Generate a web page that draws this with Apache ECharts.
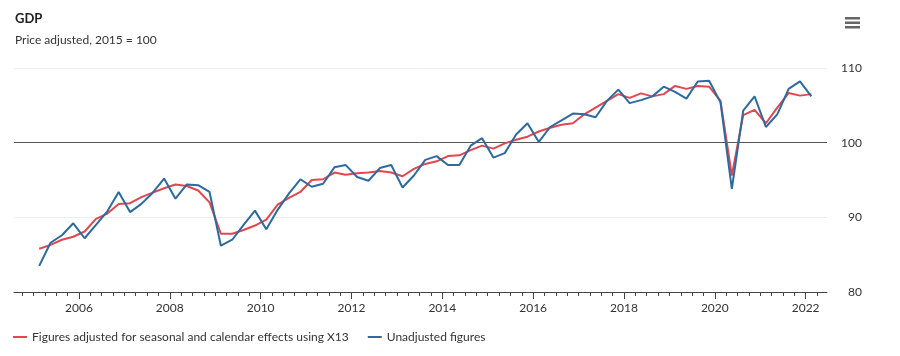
<!DOCTYPE html>
<html>
<head>
<meta charset="utf-8">
<script src="https://cdn.jsdelivr.net/npm/echarts@6/dist/echarts.min.js"></script>
<style>
html,body{margin:0;padding:0;background:#fff;}
#chart{width:900px;height:356px;}
</style>
</head>
<body>
<div id="chart"></div>
<script>
// Quarters 2005 Q1 .. 2022 Q1
const startYear = 2005;
const quarterCount = 69;
const quarters = [];
for (let i = 0; i < quarterCount; i++) {
  quarters.push((startYear + Math.floor(i / 4)) + ' Q' + (i % 4 + 1));
}

const adjusted = [
  85.8, 86.3, 87.0, 87.4, 88.1, 89.8, 90.5, 91.8, 91.9, 92.7,
  93.3, 93.9, 94.4, 94.2, 93.6, 92.0, 87.8, 87.8, 88.3, 88.9,
  89.7, 91.7, 92.6, 93.4, 95.0, 95.1, 96.0, 95.7, 95.9, 96.0,
  96.2, 96.0, 95.5, 96.5, 97.15, 97.5, 98.2, 98.3, 99.0, 99.6,
  99.2, 99.9, 100.4, 100.8, 101.5, 102.0, 102.4, 102.6, 103.8, 104.7,
  105.6, 106.5, 106.0, 106.6, 106.2, 106.5, 107.6, 107.2, 107.6, 107.5,
  105.6, 95.6, 103.7, 104.4, 102.6, 104.7, 106.65, 106.3, 106.5
];

const unadjusted = [
  83.5, 86.6, 87.6, 89.2, 87.2, 89.0, 90.8, 93.4, 90.7, 91.8,
  93.3, 95.2, 92.5, 94.4, 94.3, 93.4, 86.2, 87.0, 89.0, 90.9,
  88.4, 91.0, 93.2, 95.1, 94.1, 94.5, 96.7, 97.0, 95.4, 94.9,
  96.6, 97.0, 94.0, 95.6, 97.7, 98.2, 97.0, 97.0, 99.6, 100.6,
  98.0, 98.6, 101.1, 102.6, 100.1, 102.1, 103.0, 103.9, 103.8, 103.4,
  105.6, 107.1, 105.3, 105.7, 106.2, 107.5, 106.8, 105.9, 108.2, 108.3,
  105.4, 93.8, 104.3, 106.2, 102.1, 103.8, 107.2, 108.2, 106.2
];

const yearLabels = [2006, 2008, 2010, 2012, 2014, 2016, 2018, 2020, 2022];
const yTicks = [80, 90, 100, 110];

const seriesNames = [
  'Figures adjusted for seasonal and calendar effects using X13',
  'Unadjusted figures'
];

// quarter label -> decimal time at middle of the quarter
function quarterPos(label) {
  const parts = label.split(' Q');
  return Number(parts[0]) + (Number(parts[1]) - 1) / 4 + 0.125;
}
const xs = quarters.map(quarterPos);
const adjData = adjusted.map((v, i) => [xs[i], v]);
const unadjData = unadjusted.map((v, i) => [xs[i], v]);

const quarterTicks = [];
for (let t = 2004.75; t <= 2022.3; t += 0.25) quarterTicks.push(Math.round(t * 100) / 100);

const xMin = 2004.57, xMax = 2022.47;
const font = 'Lato, "Noto Sans", sans-serif';

const chart = echarts.init(document.getElementById('chart'), null, {renderer: 'canvas'});
chart.setOption({
  animation: false,
  backgroundColor: '#ffffff',
  textStyle: {fontFamily: font},
  title: {
    text: 'GDP',
    subtext: 'Price adjusted, 2015 = 100',
    left: 10,
    top: 7,
    itemGap: 9,
    textStyle: {fontFamily: font, fontSize: 13, fontWeight: 'bold', color: '#222'},
    subtextStyle: {fontFamily: font, fontSize: 12, color: '#333'}
  },
  legend: {
    left: 8,
    bottom: 8,
    itemWidth: 14,
    itemHeight: 2,
    itemGap: 19,
    icon: 'rect',
    textStyle: {fontFamily: font, fontSize: 12, color: '#333'},
    data: seriesNames
  },
  graphic: [
    {type: 'rect', left: 845, top: 17, shape: {width: 15, height: 2.5}, style: {fill: '#666'}},
    {type: 'rect', left: 845, top: 21.5, shape: {width: 15, height: 2.5}, style: {fill: '#666'}},
    {type: 'rect', left: 845, top: 26, shape: {width: 15, height: 2.5}, style: {fill: '#666'}}
  ],
  grid: {left: 14, right: 73, top: 68, bottom: 64, containLabel: false},
  xAxis: [
    {
      type: 'value', min: xMin, max: xMax,
      axisLine: {show: true, lineStyle: {color: '#444', width: 1}},
      axisTick: {show: true, customValues: quarterTicks, length: 4, lineStyle: {color: '#444'}},
      axisLabel: {show: false},
      splitLine: {show: false}
    },
    {
      type: 'value', min: xMin, max: xMax, position: 'bottom',
      axisLine: {show: false},
      axisTick: {show: true, customValues: yearLabels, length: 7, lineStyle: {color: '#444'}},
      axisLabel: {show: true, customValues: yearLabels, margin: 10, color: '#333', fontSize: 12, fontFamily: font,
        formatter: v => String(Math.round(v))},
      splitLine: {show: false}
    }
  ],
  yAxis: {
    type: 'value', position: 'right', min: 80, max: 110, interval: 10,
    axisLine: {show: false},
    axisTick: {show: false},
    axisLabel: {color: '#333', fontSize: 12, fontFamily: font, align: 'right', margin: 35},
    splitLine: {show: true, lineStyle: {color: ['#eeeeee', '#eeeeee', '#555555', '#eeeeee'], width: 1}}
  },
  series: [
    {
      name: seriesNames[0], type: 'line', xAxisIndex: 0, data: adjData,
      showSymbol: false, symbol: 'none',
      lineStyle: {color: '#e2474f', width: 2}, itemStyle: {color: '#e2474f'}
    },
    {
      name: seriesNames[1], type: 'line', xAxisIndex: 0, data: unadjData,
      showSymbol: false, symbol: 'none',
      lineStyle: {color: '#2c6aa0', width: 2}, itemStyle: {color: '#2c6aa0'}
    }
  ]
});
</script>
</body>
</html>
